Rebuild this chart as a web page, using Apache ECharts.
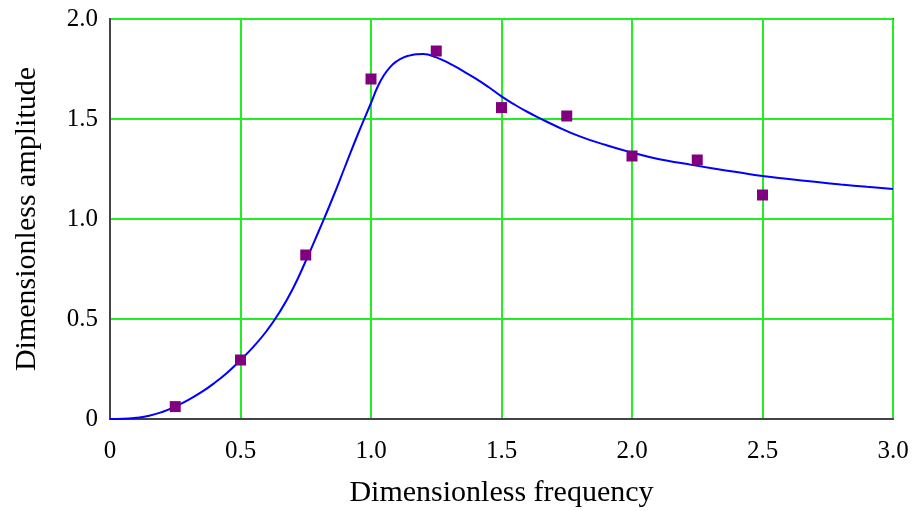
<!DOCTYPE html>
<html>
<head>
<meta charset="utf-8">
<script src="https://cdn.jsdelivr.net/npm/echarts@6/dist/echarts.min.js"></script>
<style>
  html, body { margin: 0; padding: 0; background: #fff; }
  #chart { width: 915px; height: 511px; }
</style>
</head>
<body>
<div id="chart"></div>
<script>
// Measured amplitudes at each test frequency
var measuredFreq = [0.25, 0.5, 0.75, 1.0, 1.25, 1.5, 1.75, 2.0, 2.25, 2.5];
var measuredAmp  = [0.062, 0.295, 0.82, 1.70, 1.84, 1.557, 1.515, 1.315, 1.295, 1.12];

// Fitted response curve
var curveFreq = [0, 0.05, 0.1, 0.15, 0.2, 0.25, 0.3, 0.35, 0.4, 0.45, 0.5, 0.55, 0.6, 0.65, 0.7,
                 0.75, 0.8, 0.85, 0.9, 0.95, 1.0, 1.025, 1.05, 1.075, 1.1, 1.125, 1.15, 1.175, 1.2, 1.25,
                 1.3, 1.35, 1.4, 1.45, 1.5, 1.55, 1.6, 1.65, 1.7, 1.8, 1.9, 2.0, 2.1, 2.2, 2.3, 2.4,
                 2.5, 2.6, 2.7, 2.8, 2.9, 3.0];
var curveAmp  = [0, 0.001, 0.006, 0.016, 0.035, 0.062, 0.095, 0.134, 0.18, 0.233, 0.295, 0.362, 0.44, 0.535, 0.65,
                 0.79, 0.94, 1.095, 1.26, 1.425, 1.58, 1.66, 1.72, 1.762, 1.79, 1.808, 1.818, 1.824, 1.825, 1.808,
                 1.778, 1.742, 1.703, 1.66, 1.613, 1.572, 1.535, 1.502, 1.47, 1.413, 1.37, 1.332, 1.30, 1.277, 1.255, 1.235,
                 1.215, 1.20, 1.186, 1.173, 1.161, 1.15];

// Axis tick labels
var xTickValues = [0, 0.5, 1.0, 1.5, 2.0, 2.5, 3.0];
var xTickLabels = ['0', '0.5', '1.0', '1.5', '2.0', '2.5', '3.0'];
var yTickValues = [0, 0.5, 1.0, 1.5, 2.0];
var yTickLabels = ['0', '0.5', '1.0', '1.5', '2.0'];

function tickFormatter(values, labels) {
  return function (v) {
    for (var i = 0; i < values.length; i++) {
      if (Math.abs(values[i] - v) < 1e-9) return labels[i];
    }
    return '';
  };
}

function pairs(xs, ys) {
  return xs.map(function (x, i) { return [x, ys[i]]; });
}

var serif = '"Liberation Serif", "DejaVu Serif", serif';

var chart = echarts.init(document.getElementById('chart'), null, { renderer: 'canvas' });
chart.setOption({
  animation: false,
  backgroundColor: '#ffffff',
  grid: {
    left: 110, right: 22, top: 19, bottom: 92,
    outerBoundsMode: 'none',
    containLabel: false,
    show: true,
    borderColor: '#444444',
    borderWidth: 2,
    backgroundColor: '#ffffff'
  },
  xAxis: {
    type: 'value',
    min: 0, max: 3, interval: 0.5,
    name: 'Dimensionless frequency',
    nameLocation: 'middle',
    nameGap: 59,
    nameTextStyle: { fontFamily: serif, fontSize: 30, color: '#000' },
    axisLine: { show: true, onZero: false, lineStyle: { color: '#444444', width: 2 } },
    axisTick: { show: false },
    axisLabel: {
      fontFamily: serif, fontSize: 25, color: '#000', margin: 20,
      formatter: tickFormatter(xTickValues, xTickLabels)
    },
    splitLine: { show: true, lineStyle: { color: '#22ee22', width: 2 } }
  },
  yAxis: {
    type: 'value',
    min: 0, max: 2, interval: 0.5,
    name: 'Dimensionless amplitude',
    nameLocation: 'middle',
    nameGap: 68,
    nameTextStyle: { fontFamily: serif, fontSize: 30, color: '#000' },
    axisLine: { show: true, onZero: false, lineStyle: { color: '#444444', width: 2 } },
    axisTick: { show: false },
    axisLabel: {
      fontFamily: serif, fontSize: 25, color: '#000', margin: 12,
      formatter: tickFormatter(yTickValues, yTickLabels)
    },
    splitLine: { show: true, lineStyle: { color: '#22ee22', width: 2 } }
  },
  series: [
    {
      type: 'line',
      data: pairs(curveFreq, curveAmp),
      smooth: 0.5,
      showSymbol: false,
      lineStyle: { color: '#0000ff', width: 2 },
      z: 2
    },
    {
      type: 'scatter',
      data: pairs(measuredFreq, measuredAmp),
      symbol: 'rect',
      symbolSize: 11,
      itemStyle: { color: '#800080', opacity: 1 },
      z: 3
    }
  ]
});
</script>
</body>
</html>
